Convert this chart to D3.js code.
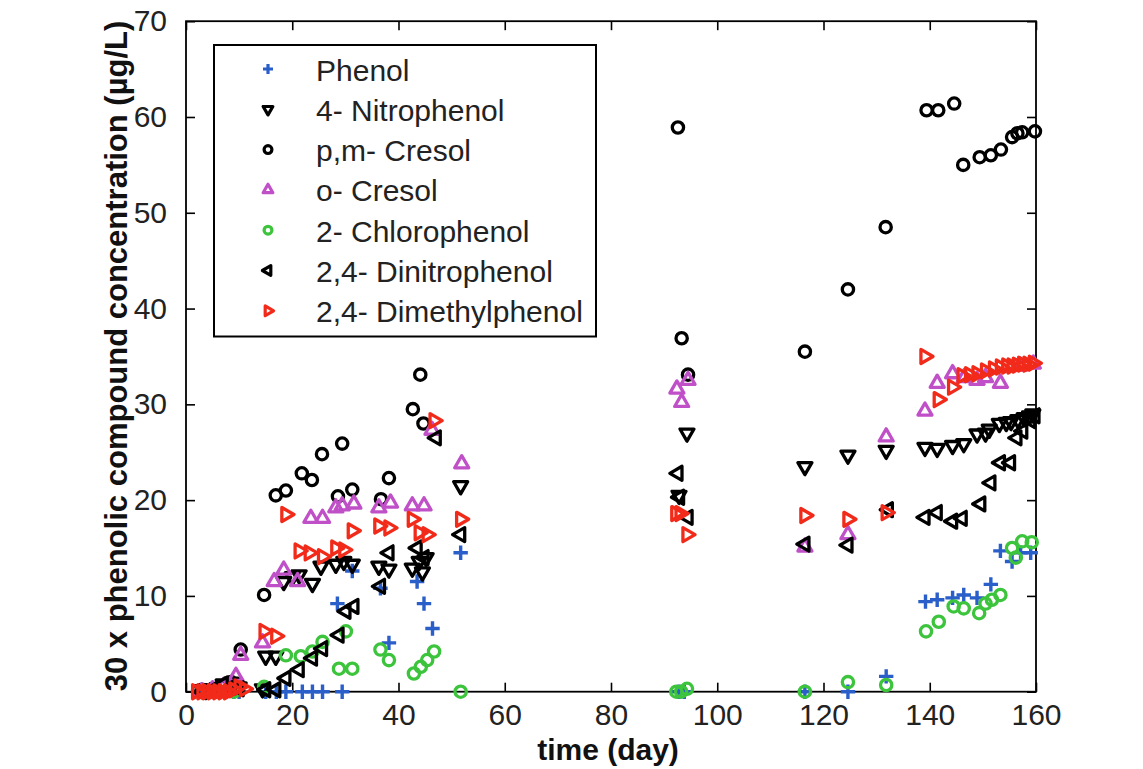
<!DOCTYPE html>
<html>
<head>
<meta charset="utf-8">
<script src="https://cdn.jsdelivr.net/npm/d3@7"></script>
<style>
  html, body { margin: 0; padding: 0; background: #fff; }
  svg { display: block; font-family: "Liberation Sans", Arial, sans-serif; }
</style>
</head>
<body>
<svg id="chart" width="1143" height="769"></svg>
<script>
// ---- Data (time in days, 30 x concentration in µg/L) ----
const xTicks = [0, 20, 40, 60, 80, 100, 120, 140, 160];
const yTicks = [0, 10, 20, 30, 40, 50, 60, 70];

const phenol = [
  [2.5,0],[4.5,0],[6,0],[7.5,0],[9,0],[10,0],
  [15,0],[17,0],[18.8,0],[21.9,0],[23.8,0],[25.7,0],[29.4,0],
  [28.5,9.2],[31.3,12.6],[36.6,10.8],[38.2,5.1],[43.5,11.5],[44.8,9.2],[46.4,6.6],[51.7,14.5],
  [92.8,0],[93.8,0],[116.5,0],[124.6,0],[131.8,1.6],
  [139.2,9.4],[141.4,9.6],[144.3,9.8],[146.4,10.1],[148.9,9.8],[151.5,11.2],[153.3,14.7],[155.5,13.6],[157.1,14.5],[159,14.5]
];
const nitrophenol4 = [
  [3,0.2],[5,0.3],[7,0.8],[8.5,1.0],[10,0.5],
  [14.4,0.3],[15,3.7],[16.9,3.7],[18.4,11.5],[20,12.0],[21.3,12.2],[23.8,11.3],[25.4,13.1],[28.2,13.3],[29.7,13.6],[31.3,13.3],
  [36.3,13.1],[38.2,12.8],[42.6,12.9],[43.9,13.6],[44.5,12.5],[45.2,14.0],[51.7,21.5],
  [92.8,20.5],[94.3,27.0],
  [116.5,23.5],[124.6,24.7],[131.8,25.2],
  [139.1,25.5],[141.4,25.4],[144.3,25.7],[146.4,25.9],[148.9,26.9],[150.5,27.0],[151.2,27.4],[153.1,28.0],[154.4,28.1],
  [155.3,28.2],[156.6,28.4],[157.8,28.6],[158.8,28.8],[159.4,29.0]
];
const pmCresol = [
  [3,0.2],[5,0.3],[7,0.5],[8.5,1.0],[10.3,4.4],
  [14.7,10.1],[16.9,20.5],[18.8,21.0],[21.8,22.8],[23.7,22.1],[25.6,24.8],[28.6,20.4],[29.4,25.9],[31.3,21.1],
  [36.7,20.1],[38.2,22.3],[42.7,29.5],[44.1,33.1],[44.7,28.0],
  [92.6,58.9],[93.3,36.9],[94.5,33.1],
  [116.5,35.5],[124.6,42.0],[131.7,48.5],
  [139.4,60.7],[141.6,60.7],[144.6,61.4],[146.3,55.0],[149.4,55.8],[151.5,56.0],[153.4,56.6],[155.5,57.9],[156.5,58.3],[157.4,58.4],[159.8,58.5]
];
const oCresol = [
  [3,0],[5,0.2],[7,0.5],[9.4,1.6],[10.3,3.8],
  [14.4,5.1],[16.6,11.5],[18.4,12.7],[21,11.5],[23.5,18.1],[25.7,18.1],[28.2,19.2],[29.4,19.4],[31.6,19.6],
  [36.3,19.2],[38.5,19.7],[42.6,19.4],[44.8,19.4],[46.3,27.3],[51.9,23.8],
  [92.4,31.6],[93.3,30.2],[94.5,32.5],
  [116.5,15.1],[124.6,16.4],[131.8,26.6],
  [139.1,29.3],[141.4,32.2],[144.3,33.2],[146.5,32.8],[148.9,32.5],[150.5,32.8],[153.3,32.2],[157,34],[159.5,34.2]
];
const chlorophenol2 = [
  [3,0],[6,0],[9,0],
  [14.7,0.5],[18.8,3.8],[21.6,3.7],[23.8,4.2],[25.7,5.2],[28.8,2.4],[30.1,6.3],[31.3,2.4],
  [36.6,4.4],[38.2,3.3],[42.9,1.9],[44.2,2.6],[45.4,3.3],[46.7,4.2],[51.7,0],
  [92.3,0],[93.2,0],[94.3,0.3],
  [116.5,0],[124.6,1.0],[131.8,0.7],
  [139.3,6.3],[141.7,7.3],[144.5,8.9],[146.4,8.7],[149.3,8.2],[150.5,9.2],[151.7,9.6],[153.3,10.1],
  [155.5,15.0],[156.2,14.0],[157.4,15.7],[159.2,15.6]
];
const dinitrophenol24 = [
  [3,0],[5,0.2],[7,0.8],[8.5,0.5],[10,0.3],
  [15,0.2],[16.9,0.2],[18.8,1.4],[21.3,2.3],[23.8,3.5],[25.7,4.5],[28.8,5.9],[30.1,8.4],[31.6,8.9],
  [36.6,11.0],[38.2,14.5],[43.5,15.0],[44.8,14.0],[47.1,26.5],[51.7,16.4],
  [92.6,22.8],[92.9,20.3],[94.5,18.2],
  [116.5,15.4],[124.6,15.3],[132.2,19.0],
  [139.1,18.2],[141.4,18.7],[144.3,17.8],[146.1,18.1],[149.6,19.6],[151.5,21.8],[153.3,23.9],[155.2,23.9],
  [156.4,26.5],[157.5,27.2],[159,28.3],[159.8,28.8]
];
const dimethylphenol24 = [
  [2,0],[3,0],[4,0],[5,0],[6,0],[7,0],[8,0],[9,0.2],[10,0.5],[11,0.3],
  [14.7,6.3],[16.9,5.8],[18.8,18.5],[21.3,14.7],[23.2,14.5],[25.7,14.1],[28.2,15.0],[29.7,14.8],[31.3,16.8],
  [36.3,17.3],[38.2,17.1],[42.6,18.0],[43.9,16.6],[45.4,16.4],[46.7,28.3],[51.7,18.0],
  [92.2,18.6],[93,18.6],[94.3,16.4],
  [116.5,18.4],[124.6,18.0],[131.8,18.7],
  [139.1,35.0],[141.6,30.5],[144.3,31.8],[146.1,33.0],[147.5,33.1],[148.9,33.2],[150.5,33.5],[152,33.7],
  [153.3,33.9],[154.5,34.0],[155.5,34.0],[156.5,34.1],[157.5,34.2],[158.5,34.2],[159.5,34.3]
];

const seriesNames = ["Phenol","4- Nitrophenol","p,m- Cresol","o- Cresol","2- Chlorophenol","2,4- Dinitrophenol","2,4- Dimethylphenol"];
const seriesData = [phenol, nitrophenol4, pmCresol, oCresol, chlorophenol2, dinitrophenol24, dimethylphenol24];
const seriesColors = ["#2a5ec8","#000000","#000000","#c050c8","#3cc43c","#000000","#f22a1a"];
const seriesMarkers = ["plus","down","circle","up","circle","left","right"];

// ---- Layout ----
const svg = d3.select("#chart");
const L = 186, R = 1036, T = 21.2, B = 691.7;
const x = d3.scaleLinear().domain([0,160]).range([L,R]);
const y = d3.scaleLinear().domain([0,70]).range([B,T]);

function markerPath(type, s) {
  const tri = d3.symbol().type(d3.symbolTriangle).size(s * 0.85)();
  const circ = d3.symbol().type(d3.symbolCircle).size(s)();
  switch (type) {
    case "circle": return {d: circ, rot: 0};
    case "up": return {d: tri, rot: 0};
    case "down": return {d: tri, rot: 180};
    case "left": return {d: tri, rot: -90};
    case "right": return {d: tri, rot: 90};
    case "plus": {
      const h = Math.sqrt(s) * 0.72;
      return {d: `M${-h},0H${h}M0,${-h}V${h}`, rot: 0};
    }
  }
}

// ---- Axes (MATLAB box style with inward ticks) ----
const tickLen = 9;
const fontSize = 30;
const axisG = svg.append("g");

const xAxisB = d3.axisBottom(x).tickValues(xTicks).tickSizeInner(-tickLen).tickSizeOuter(0).tickPadding(12);
const xAxisT = d3.axisTop(x).tickValues(xTicks).tickSizeInner(-tickLen).tickSizeOuter(0).tickFormat("");
const yAxisL = d3.axisLeft(y).tickValues(yTicks).tickSizeInner(-tickLen).tickSizeOuter(0).tickPadding(19);
const yAxisR = d3.axisRight(y).tickValues(yTicks).tickSizeInner(-tickLen).tickSizeOuter(0).tickFormat("");

function styleAxis(g) {
  g.select(".domain").remove();
  g.selectAll(".tick line").attr("stroke", "#000").attr("stroke-width", 1.6);
  g.selectAll(".tick text").attr("fill", "#222").style("font-size", fontSize + "px")
    .style("font-family", '"Liberation Sans", Arial, sans-serif');
}
axisG.append("g").attr("transform", `translate(0,${B})`).call(xAxisB).call(styleAxis);
axisG.append("g").attr("transform", `translate(0,${T})`).call(xAxisT).call(styleAxis);
axisG.append("g").attr("transform", `translate(${L},0)`).call(yAxisL).call(styleAxis);
axisG.append("g").attr("transform", `translate(${R},0)`).call(yAxisR).call(styleAxis);

svg.append("rect").attr("x", L).attr("y", T).attr("width", R - L).attr("height", B - T)
  .attr("fill", "none").attr("stroke", "#000").attr("stroke-width", 1.8);

// ---- Data markers ----
const plotG = svg.append("g");
seriesData.forEach((data, i) => {
  const m = markerPath(seriesMarkers[i], 100);
  plotG.append("g").selectAll("path").data(data).join("path")
    .attr("d", m.d)
    .attr("transform", d => `translate(${x(d[0])},${y(d[1])}) rotate(${m.rot})`)
    .attr("fill", "none")
    .attr("stroke", seriesColors[i])
    .attr("stroke-linejoin", "round")
    .attr("stroke-width", seriesMarkers[i] === "plus" ? 3.4 : 3.3);
});

// ---- Legend ----
const lg = svg.append("g");
lg.append("rect").attr("x", 214).attr("y", 45).attr("width", 382).attr("height", 291.5)
  .attr("fill", "#fff").attr("stroke", "#000").attr("stroke-width", 2);
seriesNames.forEach((name, i) => {
  const cy = 69 + i * 40.3;
  const m = markerPath(seriesMarkers[i], 48);
  lg.append("path").attr("d", m.d)
    .attr("transform", `translate(268,${cy}) rotate(${m.rot})`)
    .attr("fill", "none").attr("stroke", seriesColors[i])
    .attr("stroke-linejoin", "round")
    .attr("stroke-width", 3.2);
  lg.append("text").attr("x", 316).attr("y", cy + 11.5)
    .attr("fill", "#222").style("font-size", "30px").text(name);
});

// ---- Axis titles ----
svg.append("text").attr("x", 608).attr("y", 760).attr("text-anchor", "middle")
  .style("font-size", "30px").style("font-weight", "bold").attr("fill", "#111").text("time (day)");
svg.append("text").attr("transform", "translate(127,356) rotate(-90)").attr("text-anchor", "middle")
  .style("font-size", "31px").style("font-weight", "bold").attr("fill", "#111")
  .text("30 x phenolic compound concentration (µg/L)");
</script>
</body>
</html>
